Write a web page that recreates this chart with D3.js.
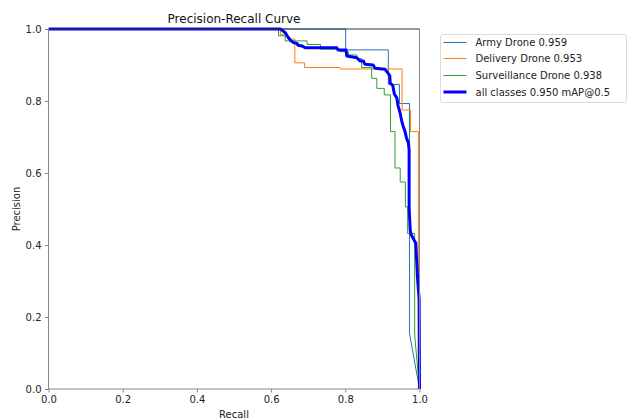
<!DOCTYPE html>
<html>
<head>
<meta charset="utf-8">
<script src="https://cdn.jsdelivr.net/npm/d3@7"></script>
<style>
  html, body { margin: 0; padding: 0; background: #fff; }
  svg { display: block; font-family: "DejaVu Sans", sans-serif; }
</style>
</head>
<body>
<svg id="chart" width="628" height="419"></svg>
<script>
// ---- data (recall, precision) ----
const armyDrone = [[0,1],[0.801,1],[0.801,0.942],[0.916,0.942],[0.916,0.846],[0.946,0.846],[0.946,0.793],[0.973,0.793],[0.973,0.155],[1,0]];
const deliveryDrone = [[0,1],[0.625,1],[0.625,0.985],[0.645,0.985],[0.645,0.972],[0.664,0.972],[0.664,0.906],[0.69,0.906],[0.69,0.893],[0.786,0.893],[0.786,0.889],[0.953,0.889],[0.953,0.775],[0.976,0.775],[0.976,0.715],[0.997,0.715],[0.997,0],[1,0]];
const surveillanceDrone = [[0,1],[0.62,1],[0.62,0.981],[0.638,0.981],[0.638,0.967],[0.697,0.967],[0.697,0.957],[0.733,0.957],[0.733,0.944],[0.786,0.944],[0.786,0.937],[0.808,0.937],[0.808,0.928],[0.831,0.928],[0.831,0.918],[0.844,0.918],[0.844,0.893],[0.871,0.893],[0.871,0.863],[0.885,0.863],[0.885,0.835],[0.905,0.835],[0.905,0.817],[0.922,0.817],[0.922,0.715],[0.934,0.715],[0.934,0.614],[0.948,0.614],[0.948,0.575],[0.962,0.575],[0.962,0.506],[0.968,0.506],[0.968,0.432],[0.987,0.432],[0.987,0.15],[1,0]];
const allClasses = [[0,1],[0.625,1],[0.629,0.997],[0.638,0.99],[0.643,0.981],[0.649,0.973],[0.654,0.967],[0.661,0.962],[0.67,0.96],[0.672,0.955],[0.683,0.953],[0.692,0.948],[0.777,0.948],[0.78,0.942],[0.802,0.942],[0.804,0.925],[0.831,0.92],[0.84,0.911],[0.849,0.911],[0.853,0.902],[0.875,0.9],[0.88,0.891],[0.907,0.888],[0.916,0.876],[0.92,0.87],[0.921,0.85],[0.928,0.843],[0.932,0.82],[0.939,0.808],[0.942,0.788],[0.947,0.77],[0.952,0.745],[0.956,0.73],[0.961,0.715],[0.965,0.697],[0.97,0.684],[0.972,0.664],[0.972,0.506],[0.975,0.44],[0.978,0.428],[0.99,0.405],[0.995,0.303],[0.999,0.25],[1,0]];

const seriesNames = ["Army Drone 0.959","Delivery Drone 0.953","Surveillance Drone 0.938","all classes 0.950 mAP@0.5"];
const seriesColors = ["#1f77b4","#ff7f0e","#2ca02c","#0000ff"];
const seriesWidths = [1,1,1,3];
const seriesData = [armyDrone, deliveryDrone, surveillanceDrone, allClasses];
const tickValues = [0,0.2,0.4,0.6,0.8,1.0];

// ---- layout ----
const svg = d3.select("#chart");
const L = 48.5, R = 419.5, T = 29, B = 389;
const x = d3.scaleLinear().domain([0,1]).range([L,R]);
const y = d3.scaleLinear().domain([0,1]).range([B,T]);

svg.append("clipPath").attr("id","clip").append("rect")
  .attr("x", L).attr("y", T - 2).attr("width", R - L + 2).attr("height", B - T + 2);

// series
const line = d3.line().x(d => x(d[0])).y(d => y(d[1]));
const g = svg.append("g").attr("clip-path","url(#clip)");
seriesData.forEach((s,i) => {
  g.append("path").datum(s)
    .attr("d", line)
    .attr("fill","none")
    .attr("stroke", seriesColors[i])
    .attr("stroke-width", seriesWidths[i])
    .attr("stroke-linejoin","round");
});

// axes
const fmt = d3.format(".1f");
const xAxis = svg.append("g").attr("transform",`translate(0,${B})`)
  .call(d3.axisBottom(x).tickValues(tickValues).tickFormat(fmt).tickSize(3.5).tickPadding(3.5));
const yAxis = svg.append("g").attr("transform",`translate(${L},0)`)
  .call(d3.axisLeft(y).tickValues(tickValues).tickFormat(fmt).tickSize(3.5).tickPadding(3.5));
[xAxis,yAxis].forEach(a => {
  a.select(".domain").remove();
  a.selectAll(".tick line").attr("stroke","#777").attr("stroke-width",0.9);
  a.selectAll(".tick text").attr("fill","#222").style("font-size","10px").style("font-family","DejaVu Sans");
});

// spines
const spine = (x1,y1,x2,y2,c) => svg.append("line").attr("x1",x1).attr("y1",y1).attr("x2",x2).attr("y2",y2)
  .attr("stroke",c).attr("stroke-width",1);
spine(L, T, L, B, "#888");
spine(L, B, R, B, "#888");
spine(R, T, R, B, "#888");
spine(L, T, R, T, "#333");

// title & labels
svg.append("text").attr("x",(L+R)/2).attr("y",22.5).attr("text-anchor","middle")
  .style("font-size","12px").attr("fill","#111").text("Precision-Recall Curve");
svg.append("text").attr("x",(L+R)/2).attr("y",417.5).attr("text-anchor","middle")
  .style("font-size","10px").attr("fill","#222").text("Recall");
svg.append("text").attr("transform",`translate(19.5,${(T+B)/2}) rotate(-90)`).attr("text-anchor","middle")
  .style("font-size","10px").attr("fill","#222").text("Precision");

// legend
const lg = svg.append("g");
lg.append("rect").attr("x",440.5).attr("y",34.5).attr("width",186).attr("height",68).attr("rx",2.5)
  .attr("fill","#fff").attr("fill-opacity",0.8).attr("stroke","#d0d0d0").attr("stroke-width",0.8);
const rowY = [42.5, 58.5, 75.5, 92];
seriesNames.forEach((n,i) => {
  lg.append("line").attr("x1",443.5).attr("x2",466.5).attr("y1",rowY[i]).attr("y2",rowY[i])
    .attr("stroke",seriesColors[i]).attr("stroke-width",seriesWidths[i]);
  lg.append("text").attr("x",475.5).attr("y",rowY[i]).attr("dy","0.35em")
    .style("font-size","10px").attr("fill","#222").text(n);
});
</script>
</body>
</html>
